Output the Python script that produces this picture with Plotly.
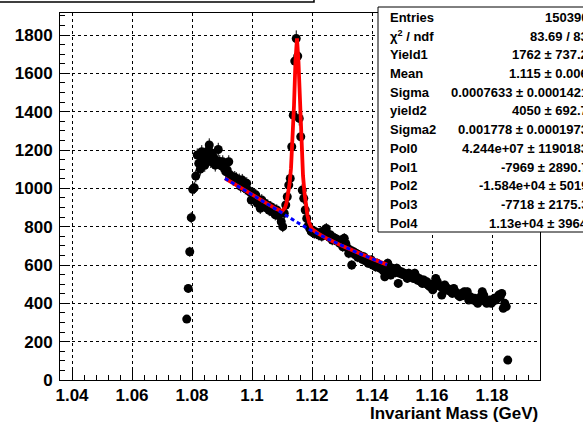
import numpy as np
import plotly.graph_objects as go

# ---------------- data ----------------
bin_lo = 1.078          # lower edge of first filled bin (GeV)
bin_w = 0.0005          # bin width (GeV)
counts = [
    318, 478, 669, 847, 995, 1003, 1064, 1174, 1130, 1100,
    1191, 1150, 1120, 1165, 1195, 1226, 1140, 1183, 1160, 1121,
    1145, 1203, 1140, 1118, 1139, 1105, 1087, 1096, 1139, 1070,
    1061, 1045, 1058, 1052, 1030, 1045, 1010, 1043, 1008, 1000,
    1026, 990, 982, 939, 975, 958, 966, 922, 940, 896,
    939, 915, 922, 898, 912, 885, 904, 878, 893, 862,
    887, 858, 870, 826, 800, 870, 913, 956, 1017, 1052,
    1217, 1382, 1664, 1782, 1690, 1365, 1269, 991, 948, 887,
    843, 805, 790, 774, 780, 765, 772, 765, 756, 770,
    750, 775, 783, 791, 760, 745, 756, 730, 740, 739,
    725, 730, 713, 730, 695, 739, 713, 690, 661, 678,
    600, 670, 655, 661, 640, 652, 643, 630, 643, 622,
    630, 609, 617, 626, 600, 609, 590, 609, 596, 583,
    590, 570, 539, 600, 609, 575, 548, 583, 574, 560,
    583, 504, 557, 565, 550, 557, 548, 530, 557, 548,
    539, 530, 557, 539, 520, 530, 513, 504, 522, 504,
    513, 495, 487, 500, 470, 487, 530, 513, 495, 487,
    443, 478, 496, 470, 478, 465, 470, 452, 478, 461,
    452, 443, 435, 452, 440, 461, 443, 461, 417, 435,
    426, 417, 426, 409, 400, 417, 435, 461, 443, 409,
    400, 409, 417, 400, 409, 426, 417, 426, 443, 435,
    452, 374, 400, 383, 104,
]

# total fit curve (red)
fit_x = [1.091, 1.095, 1.100, 1.105, 1.108, 1.110, 1.111, 1.1115, 1.112, 1.1125,
         1.113, 1.1135, 1.114, 1.1145, 1.115, 1.1155, 1.116, 1.1165, 1.117, 1.1175,
         1.118, 1.1185, 1.119, 1.120, 1.122, 1.125, 1.130, 1.135, 1.140, 1.145]
fit_y = [1052, 1015, 968, 920, 893, 881, 898, 923, 964, 1022,
         1104, 1232, 1432, 1668, 1783, 1658, 1414, 1205, 1067, 976,
         908, 858, 823, 787, 765, 738, 700, 665, 633, 602]

# background curve (blue dashed)
bkg_x = [1.091, 1.095, 1.100, 1.105, 1.110, 1.115, 1.120, 1.125, 1.130, 1.135, 1.140, 1.145]
bkg_y = [1052, 1015, 968, 920, 872, 823, 778, 738, 700, 665, 633, 602]

x_ticks = [1.04, 1.06, 1.08, 1.10, 1.12, 1.14, 1.16, 1.18]
x_ticktext = ["1.04", "1.06", "1.08", "1.1", "1.12", "1.14", "1.16", "1.18"]
y_ticks = [0, 200, 400, 600, 800, 1000, 1200, 1400, 1600, 1800]
y_ticktext = ["0", "200", "400", "600", "800", "1000", "1200", "1400", "1600", "1800"]

stat_names = ["Entries", "χ<sup>2</sup> / ndf", "Yield1", "Mean", "Sigma", "yield2",
              "Sigma2", "Pol0", "Pol1", "Pol2", "Pol3", "Pol4"]
stat_values = ["150390", "83.69 / 83", "1762 ± 737.2", "1.115 ± 0.006",
               "0.0007633 ± 0.0001421", "4050 ± 692.7", "0.001778 ± 0.0001973",
               "4.244e+07 ± 1190183", "-7969 ± 2890.7", "-1.584e+04 ± 5019",
               "-7718 ± 2175.3", "1.13e+04 ± 3964"]

x_title = "Invariant Mass (GeV)"

# ---------------- figure ----------------
x = bin_lo + bin_w * (np.arange(len(counts)) + 0.5)
cnt = np.array(counts, dtype=float)
err = np.sqrt(cnt)

FONT = "Liberation Sans"
W, H = 583, 423
ML, MR, MT, MB = 60, 43, 13, 43
PW, PH = W - ML - MR, H - MT - MB


def px2paper_x(px):
    return (px - ML) / PW


def px2paper_y(py):
    return (H - MB - py) / PH


fig = go.Figure()
fig.add_trace(go.Scatter(
    x=x, y=cnt, mode="markers",
    marker=dict(color="black", size=9, symbol="circle"),
    error_y=dict(type="data", array=err, visible=True, color="black",
                 thickness=1, width=0),
    showlegend=False, hoverinfo="skip"))
fig.add_trace(go.Scatter(
    x=fit_x, y=fit_y, mode="lines",
    line=dict(color="#ff0000", width=3.8), showlegend=False))
fig.add_trace(go.Scatter(
    x=bkg_x, y=bkg_y, mode="lines",
    line=dict(color="#0000ff", width=3, dash="4px,3px"), showlegend=False))

axis_common = dict(
    showline=True, linecolor="black", linewidth=1, mirror=True,
    ticks="inside", tickcolor="black", tickwidth=1,
    showgrid=True, gridcolor="black", gridwidth=1, griddash="dot",
    zeroline=False,
    tickfont=dict(family=FONT, size=17, color="black", weight="bold"),
)

fig.update_xaxes(
    range=[1.036, 1.196], tickmode="array", tickvals=x_ticks, ticktext=x_ticktext,
    ticklen=10,
    minor=dict(tickmode="linear", tick0=1.04, dtick=0.004, ticks="inside",
               ticklen=5, tickcolor="black", showgrid=False),
    **axis_common)
fig.update_yaxes(
    range=[0, 1915], tickmode="array", tickvals=y_ticks, ticktext=y_ticktext,
    ticklen=10, ticklabelstandoff=3,
    minor=dict(tickmode="linear", tick0=0, dtick=50, ticks="inside",
               ticklen=5, tickcolor="black", showgrid=False),
    **axis_common)

shapes = []
# title box (top-left, mostly outside canvas)
shapes.append(dict(type="rect", xref="paper", yref="paper",
                   x0=px2paper_x(-10), x1=px2paper_x(314),
                   y0=px2paper_y(2), y1=px2paper_y(-20),
                   line=dict(color="black", width=1.5), fillcolor="white", layer="above"))
# stats box
shapes.append(dict(type="rect", xref="paper", yref="paper",
                   x0=px2paper_x(378), x1=px2paper_x(640),
                   y0=px2paper_y(232), y1=px2paper_y(7),
                   line=dict(color="black", width=1), fillcolor="white", layer="above"))

annotations = []
row0, dy = 17.5, 18.7
for i, (nm, val) in enumerate(zip(stat_names, stat_values)):
    py = row0 + i * dy
    annotations.append(dict(xref="paper", yref="paper", x=px2paper_x(388), y=px2paper_y(py),
                            text=nm, showarrow=False, xanchor="left", yanchor="middle",
                            font=dict(family=FONT, size=13, color="black", weight="bold")))
    annotations.append(dict(xref="paper", yref="paper", x=px2paper_x(590), y=px2paper_y(py),
                            text=val, showarrow=False, xanchor="right", yanchor="middle",
                            font=dict(family=FONT, size=13, color="black", weight="bold")))

annotations.append(dict(xref="paper", yref="paper", x=1.0, y=px2paper_y(413),
                        text=x_title, showarrow=False, xanchor="right", yanchor="middle",
                        font=dict(family=FONT, size=17, color="black", weight="bold")))

fig.update_layout(
    width=W, height=H,
    margin=dict(l=ML, r=MR, t=MT, b=MB, pad=0),
    paper_bgcolor="white", plot_bgcolor="white",
    shapes=shapes, annotations=annotations,
    showlegend=False,
)

fig.write_html("out.html")
